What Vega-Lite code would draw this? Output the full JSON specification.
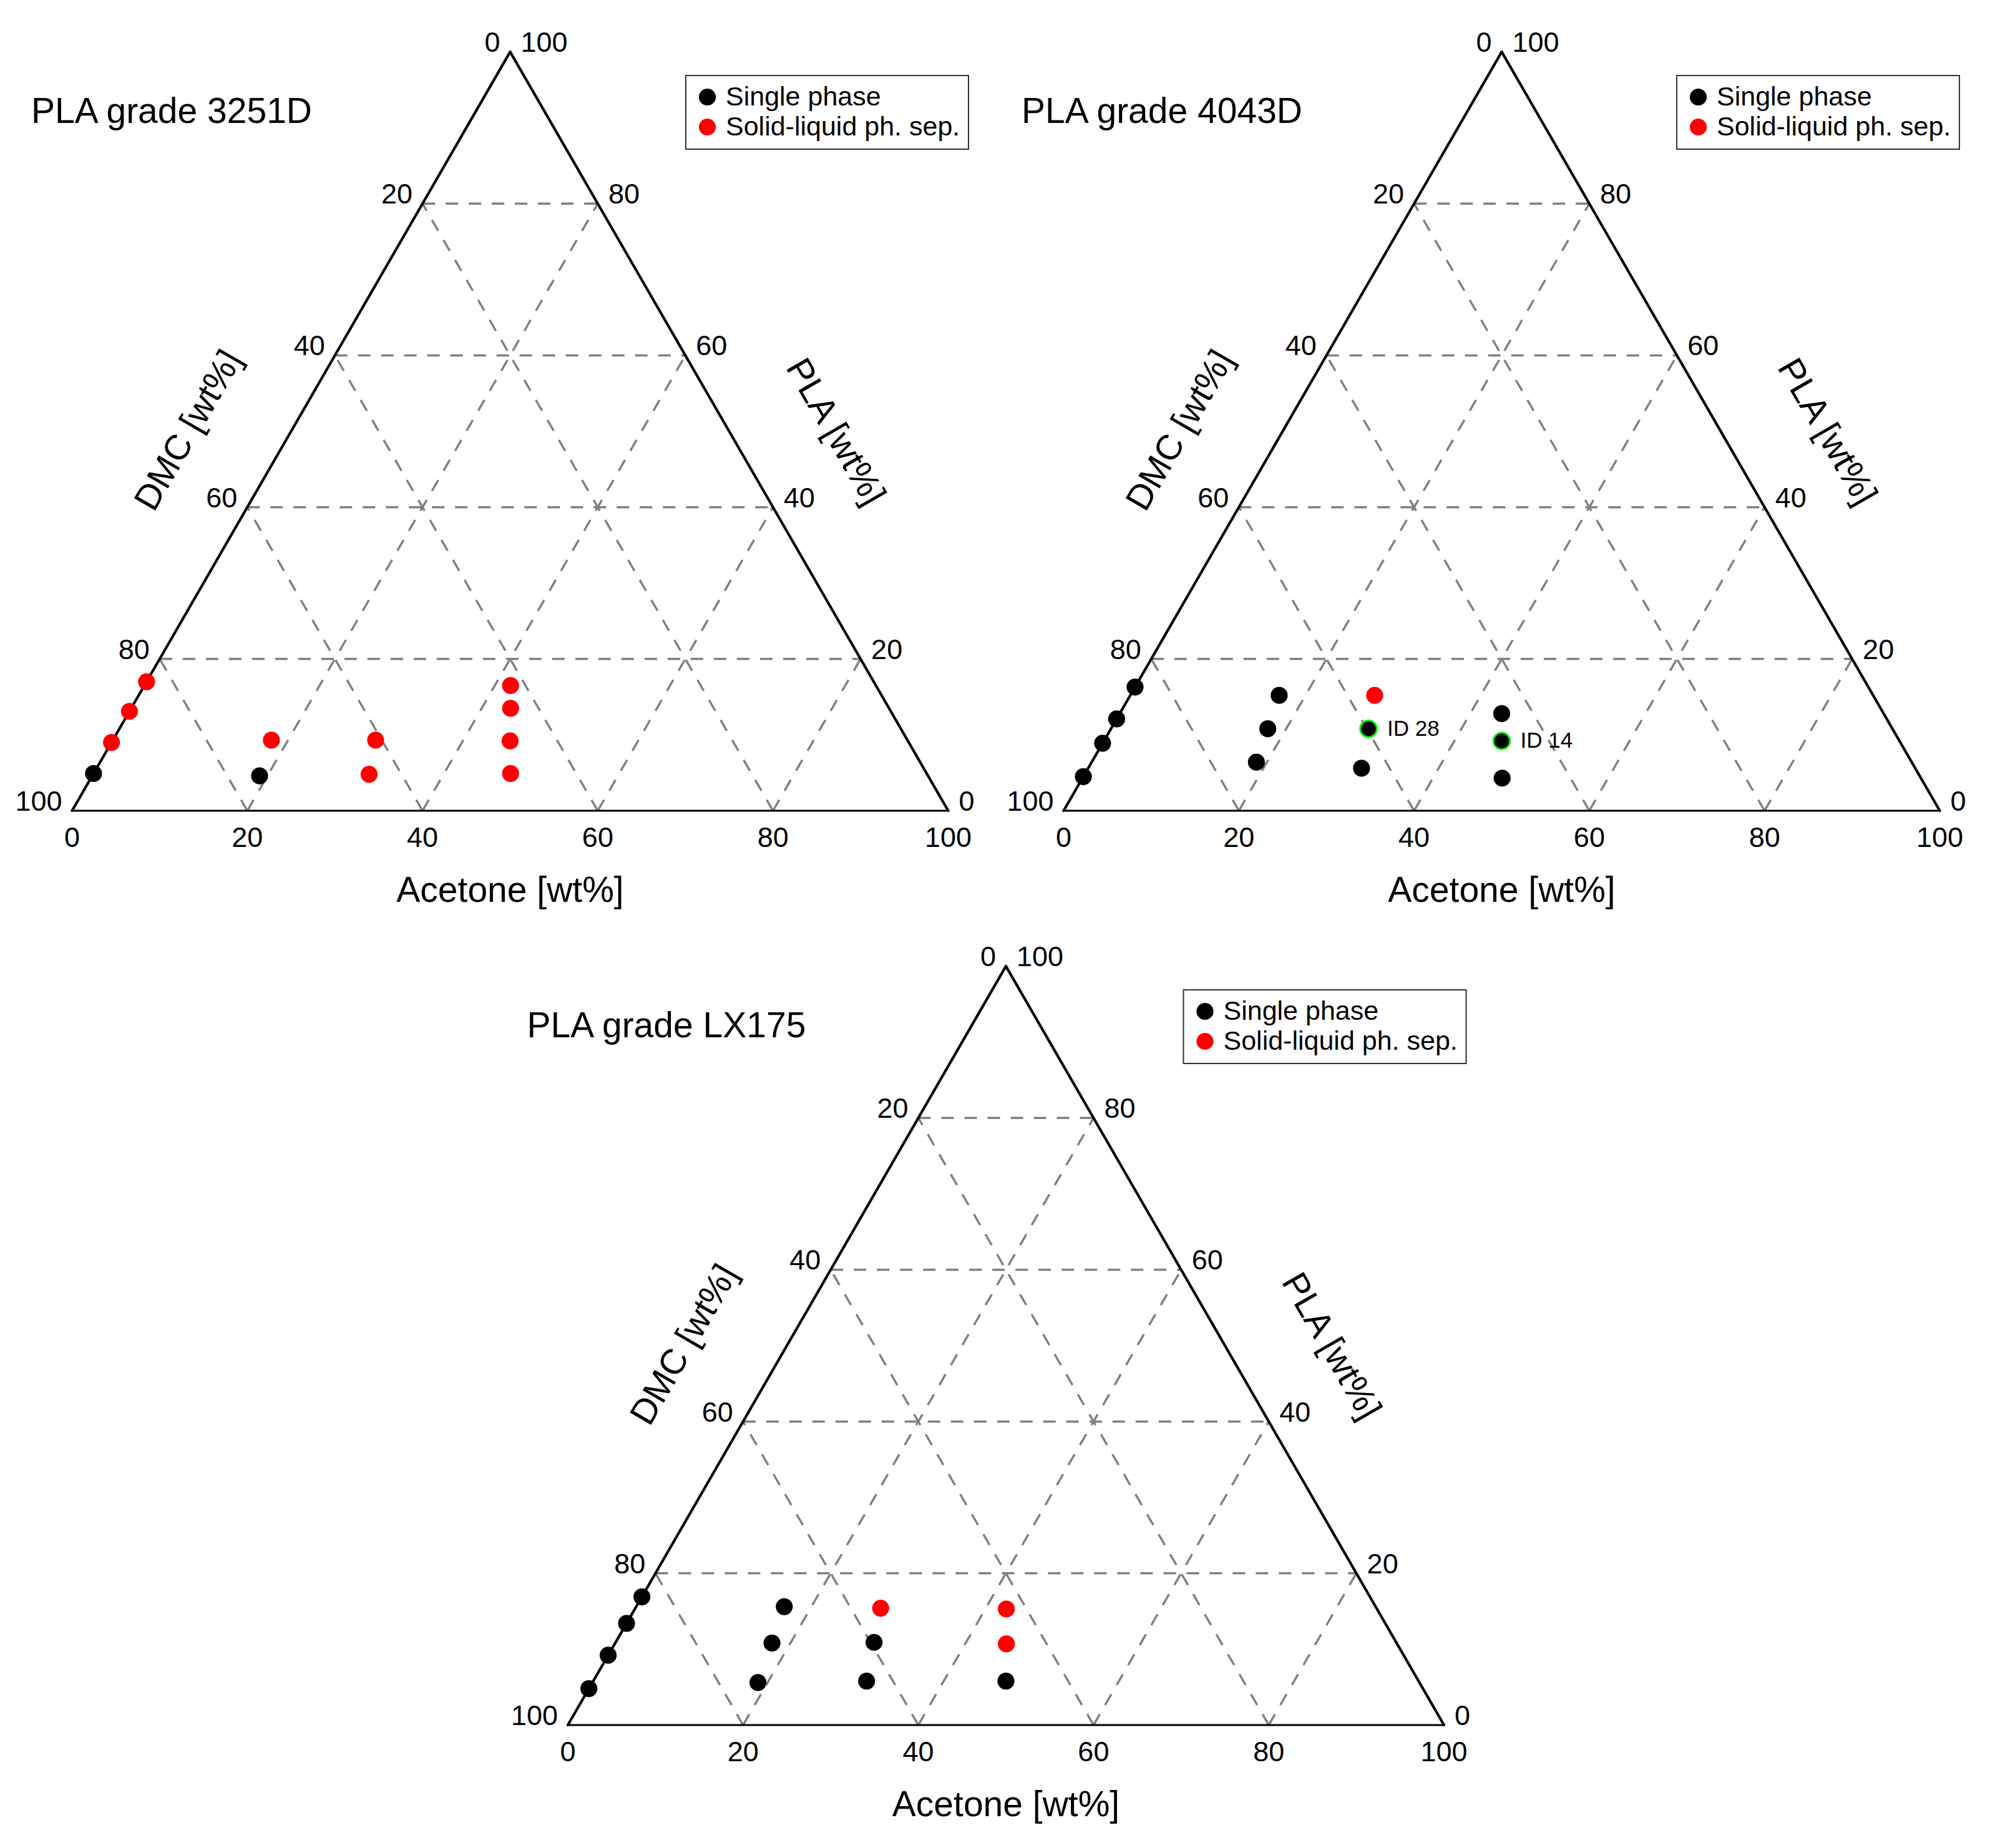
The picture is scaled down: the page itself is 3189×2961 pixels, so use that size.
{
  "$schema": "https://vega.github.io/schema/vega-lite/v6.json",
  "padding": 0,
  "spacing": 0,
  "center": true,
  "config": {
    "view": {"stroke": null},
    "font": "Liberation Sans",
    "concat": {"spacing": 0},
    "legend": {"strokeWidth": 2}
  },
  "datasets": {
    "frame": [
      {"edge": "bottom", "a1": 0, "p1": 0, "a2": 100, "p2": 0},
      {"edge": "right", "a1": 100, "p1": 0, "a2": 0, "p2": 100},
      {"edge": "left", "a1": 0, "p1": 100, "a2": 0, "p2": 0}
    ],
    "grid": [
      {"a1": 0, "p1": 20, "a2": 80, "p2": 20},
      {"a1": 0, "p1": 40, "a2": 60, "p2": 40},
      {"a1": 0, "p1": 60, "a2": 40, "p2": 60},
      {"a1": 0, "p1": 80, "a2": 20, "p2": 80},
      {"a1": 20, "p1": 0, "a2": 20, "p2": 80},
      {"a1": 40, "p1": 0, "a2": 40, "p2": 60},
      {"a1": 60, "p1": 0, "a2": 60, "p2": 40},
      {"a1": 80, "p1": 0, "a2": 80, "p2": 20},
      {"a1": 20, "p1": 0, "a2": 0, "p2": 20},
      {"a1": 40, "p1": 0, "a2": 0, "p2": 40},
      {"a1": 60, "p1": 0, "a2": 0, "p2": 60},
      {"a1": 80, "p1": 0, "a2": 0, "p2": 80}
    ],
    "ticks": [
      {"side": "b", "a": 0, "p": 0, "t": "0"},
      {"side": "b", "a": 20, "p": 0, "t": "20"},
      {"side": "b", "a": 40, "p": 0, "t": "40"},
      {"side": "b", "a": 60, "p": 0, "t": "60"},
      {"side": "b", "a": 80, "p": 0, "t": "80"},
      {"side": "b", "a": 100, "p": 0, "t": "100"},
      {"side": "r", "a": 100, "p": 0, "t": "0"},
      {"side": "r", "a": 80, "p": 20, "t": "20"},
      {"side": "r", "a": 60, "p": 40, "t": "40"},
      {"side": "r", "a": 40, "p": 60, "t": "60"},
      {"side": "r", "a": 20, "p": 80, "t": "80"},
      {"side": "r", "a": 0, "p": 100, "t": "100"},
      {"side": "l", "a": 0, "p": 0, "t": "100"},
      {"side": "l", "a": 0, "p": 20, "t": "80"},
      {"side": "l", "a": 0, "p": 40, "t": "60"},
      {"side": "l", "a": 0, "p": 60, "t": "40"},
      {"side": "l", "a": 0, "p": 80, "t": "20"},
      {"side": "l", "a": 0, "p": 100, "t": "0"}
    ],
    "axtitles": [
      {"side": "b", "a": 50, "p": 0, "t": "Acetone [wt%]"},
      {"side": "r", "a": 50, "p": 50, "t": "PLA [wt%]"},
      {"side": "l", "a": 0, "p": 50, "t": "DMC [wt%]"}
    ],
    "pts": [
      {"grade": "3251D", "phase": "Single phase", "a": 0, "p": 4.9, "dmc": 95.1},
      {"grade": "3251D", "phase": "Single phase", "a": 19.1, "p": 4.6, "dmc": 76.3},
      {"grade": "3251D", "phase": "Solid-liquid ph. sep.", "a": 0, "p": 9.0, "dmc": 91.0},
      {"grade": "3251D", "phase": "Solid-liquid ph. sep.", "a": 0, "p": 13.1, "dmc": 86.9},
      {"grade": "3251D", "phase": "Solid-liquid ph. sep.", "a": 0, "p": 17.0, "dmc": 83.0},
      {"grade": "3251D", "phase": "Solid-liquid ph. sep.", "a": 18.1, "p": 9.3, "dmc": 72.6},
      {"grade": "3251D", "phase": "Solid-liquid ph. sep.", "a": 30.0, "p": 9.3, "dmc": 60.7},
      {"grade": "3251D", "phase": "Solid-liquid ph. sep.", "a": 31.5, "p": 4.8, "dmc": 63.7},
      {"grade": "3251D", "phase": "Solid-liquid ph. sep.", "a": 41.8, "p": 16.5, "dmc": 41.7},
      {"grade": "3251D", "phase": "Solid-liquid ph. sep.", "a": 43.3, "p": 13.5, "dmc": 43.2},
      {"grade": "3251D", "phase": "Solid-liquid ph. sep.", "a": 45.4, "p": 9.2, "dmc": 45.4},
      {"grade": "3251D", "phase": "Solid-liquid ph. sep.", "a": 47.6, "p": 4.9, "dmc": 47.5},
      {"grade": "4043D", "phase": "Single phase", "a": 0, "p": 4.5, "dmc": 95.5},
      {"grade": "4043D", "phase": "Single phase", "a": 0, "p": 8.9, "dmc": 91.1},
      {"grade": "4043D", "phase": "Single phase", "a": 0, "p": 12.1, "dmc": 87.9},
      {"grade": "4043D", "phase": "Single phase", "a": 0, "p": 16.3, "dmc": 83.7},
      {"grade": "4043D", "phase": "Single phase", "a": 17.0, "p": 15.2, "dmc": 67.8},
      {"grade": "4043D", "phase": "Single phase", "a": 17.9, "p": 10.8, "dmc": 71.3},
      {"grade": "4043D", "phase": "Single phase", "a": 18.8, "p": 6.4, "dmc": 74.8},
      {"grade": "4043D", "phase": "Single phase", "a": 29.4, "p": 10.8, "dmc": 59.8, "label": "ID 28"},
      {"grade": "4043D", "phase": "Single phase", "a": 31.2, "p": 5.6, "dmc": 63.2},
      {"grade": "4043D", "phase": "Single phase", "a": 43.6, "p": 12.8, "dmc": 43.6},
      {"grade": "4043D", "phase": "Single phase", "a": 45.4, "p": 9.2, "dmc": 45.4, "label": "ID 14"},
      {"grade": "4043D", "phase": "Single phase", "a": 47.9, "p": 4.3, "dmc": 47.8},
      {"grade": "4043D", "phase": "Solid-liquid ph. sep.", "a": 27.9, "p": 15.2, "dmc": 56.9},
      {"grade": "LX175", "phase": "Single phase", "a": 0, "p": 4.8, "dmc": 95.2},
      {"grade": "LX175", "phase": "Single phase", "a": 0, "p": 9.2, "dmc": 90.8},
      {"grade": "LX175", "phase": "Single phase", "a": 0, "p": 13.4, "dmc": 86.6},
      {"grade": "LX175", "phase": "Single phase", "a": 0, "p": 16.9, "dmc": 83.1},
      {"grade": "LX175", "phase": "Single phase", "a": 16.9, "p": 15.6, "dmc": 67.5},
      {"grade": "LX175", "phase": "Single phase", "a": 17.9, "p": 10.8, "dmc": 71.3},
      {"grade": "LX175", "phase": "Single phase", "a": 18.9, "p": 5.6, "dmc": 75.5},
      {"grade": "LX175", "phase": "Single phase", "a": 29.5, "p": 10.9, "dmc": 59.6},
      {"grade": "LX175", "phase": "Single phase", "a": 31.2, "p": 5.8, "dmc": 63.0},
      {"grade": "LX175", "phase": "Single phase", "a": 47.1, "p": 5.8, "dmc": 47.1},
      {"grade": "LX175", "phase": "Solid-liquid ph. sep.", "a": 28.0, "p": 15.4, "dmc": 56.6},
      {"grade": "LX175", "phase": "Solid-liquid ph. sep.", "a": 42.4, "p": 15.3, "dmc": 42.3},
      {"grade": "LX175", "phase": "Solid-liquid ph. sep.", "a": 44.7, "p": 10.7, "dmc": 44.6}
    ]
  },
  "resolve": {"scale": {"color": "independent", "x": "independent", "y": "independent"}, "legend": {"color": "independent"}},
  "vconcat": [
    {
      "spacing": 0,
      "resolve": {"scale": {"color": "independent", "x": "independent", "y": "independent"}, "legend": {"color": "independent"}},
      "hconcat": [
        {
          "width": 1589, "height": 1465,
          "title": {"text": "PLA grade 3251D", "anchor": "start", "frame": "group", "offset": -254, "dx": 50, "fontSize": 57, "fontWeight": "normal", "font": "Liberation Sans", "color": "#000000", "baseline": "alphabetic"},
          "encoding": {
            "x": {"field": "x", "type": "quantitative", "scale": {"domain": [-8.226, 104.95], "nice": false, "zero": false}, "axis": null},
            "y": {"field": "y", "type": "quantitative", "scale": {"domain": [-11.82, 92.52], "nice": false, "zero": false}, "axis": null}
          },
          "layer": [
            {"data": {"name": "grid"}, "transform": [{"calculate": "datum.a1 + datum.p1/2", "as": "x"}, {"calculate": "datum.p1*0.8660254", "as": "y"}, {"calculate": "datum.a2 + datum.p2/2", "as": "x2"}, {"calculate": "datum.p2*0.8660254", "as": "y2"}],
             "mark": {"type": "rule", "color": "#808080", "strokeWidth": 3.5, "strokeDash": [20, 17]}, "encoding": {"x2": {"field": "x2"}, "y2": {"field": "y2"}}},
            {"data": {"name": "frame"}, "transform": [{"filter": "datum.edge != 'bottom'"}, {"calculate": "datum.a1 + datum.p1/2", "as": "x"}, {"calculate": "datum.p1*0.8660254", "as": "y"}, {"calculate": "datum.a2 + datum.p2/2", "as": "x2"}, {"calculate": "datum.p2*0.8660254", "as": "y2"}],
             "mark": {"type": "rule", "color": "#000000", "strokeWidth": 4.2, "strokeCap": "round"}, "encoding": {"x2": {"field": "x2"}, "y2": {"field": "y2"}}},
            {"data": {"name": "frame"}, "transform": [{"filter": "datum.edge == 'bottom'"}, {"calculate": "datum.a1 + datum.p1/2", "as": "x"}, {"calculate": "datum.p1*0.8660254", "as": "y"}, {"calculate": "datum.a2 + datum.p2/2", "as": "x2"}, {"calculate": "datum.p2*0.8660254", "as": "y2"}],
             "mark": {"type": "rule", "color": "#000000", "strokeWidth": 3, "strokeCap": "round"}, "encoding": {"x2": {"field": "x2"}, "y2": {"field": "y2"}}},
            {"data": {"name": "ticks"}, "transform": [{"filter": "datum.side == 'b'"}, {"calculate": "datum.a + datum.p/2", "as": "x"}, {"calculate": "datum.p*0.8660254", "as": "y"}],
             "mark": {"type": "text", "fontSize": 45, "color": "#000000", "align": "center", "baseline": "alphabetic", "dy": 58}, "encoding": {"text": {"field": "t"}}},
            {"data": {"name": "ticks"}, "transform": [{"filter": "datum.side == 'r'"}, {"calculate": "datum.a + datum.p/2", "as": "x"}, {"calculate": "datum.p*0.8660254", "as": "y"}],
             "mark": {"type": "text", "fontSize": 45, "color": "#000000", "align": "left", "baseline": "alphabetic", "dx": 17}, "encoding": {"text": {"field": "t"}}},
            {"data": {"name": "ticks"}, "transform": [{"filter": "datum.side == 'l'"}, {"calculate": "datum.a + datum.p/2", "as": "x"}, {"calculate": "datum.p*0.8660254", "as": "y"}],
             "mark": {"type": "text", "fontSize": 45, "color": "#000000", "align": "right", "baseline": "alphabetic", "dx": -16}, "encoding": {"text": {"field": "t"}}},
            {"data": {"name": "axtitles"}, "transform": [{"filter": "datum.side == 'b'"}, {"calculate": "datum.a + datum.p/2", "as": "x"}, {"calculate": "datum.p*0.8660254", "as": "y"}],
             "mark": {"type": "text", "fontSize": 57, "color": "#000000", "align": "center", "baseline": "alphabetic", "dy": 146}, "encoding": {"text": {"field": "t"}}},
            {"data": {"name": "axtitles"}, "transform": [{"filter": "datum.side == 'r'"}, {"calculate": "datum.a + datum.p/2", "as": "x"}, {"calculate": "datum.p*0.8660254", "as": "y"}],
             "mark": {"type": "text", "fontSize": 57, "color": "#000000", "align": "center", "baseline": "middle", "angle": 60, "dx": 86, "dy": -146}, "encoding": {"text": {"field": "t"}}},
            {"data": {"name": "axtitles"}, "transform": [{"filter": "datum.side == 'l'"}, {"calculate": "datum.a + datum.p/2", "as": "x"}, {"calculate": "datum.p*0.8660254", "as": "y"}],
             "mark": {"type": "text", "fontSize": 57, "color": "#000000", "align": "center", "baseline": "middle", "angle": 300, "dx": -81, "dy": -142}, "encoding": {"text": {"field": "t"}}},
            {"data": {"name": "pts"}, "transform": [{"filter": "datum.grade == '3251D'"}, {"calculate": "datum.a + datum.p/2", "as": "x"}, {"calculate": "datum.p*0.8660254", "as": "y"}],
             "mark": {"type": "circle", "size": 740, "opacity": 1},
             "encoding": {"color": {"field": "phase", "type": "nominal", "scale": {"domain": ["Single phase", "Solid-liquid ph. sep."], "range": ["#000000", "#ff0000"]},
               "legend": {"orient": "none", "legendX": 1099, "legendY": 121, "title": null, "strokeColor": "#333333", "fillColor": "#ffffff", "padding": 13, "rowPadding": 4, "symbolType": "circle", "symbolSize": 740, "symbolStrokeWidth": 0, "symbolOpacity": 1, "labelFontSize": 43, "labelFont": "Liberation Sans", "labelColor": "#000000", "labelOffset": 8, "labelLimit": 0}}}}
          ]
        },
        {
          "width": 1589, "height": 1465,
          "title": {"text": "PLA grade 4043D", "anchor": "start", "frame": "group", "offset": -254, "dx": 48, "fontSize": 57, "fontWeight": "normal", "font": "Liberation Sans", "color": "#000000", "baseline": "alphabetic"},
          "encoding": {
            "x": {"field": "x", "type": "quantitative", "scale": {"domain": [-8.226, 104.95], "nice": false, "zero": false}, "axis": null},
            "y": {"field": "y", "type": "quantitative", "scale": {"domain": [-11.82, 92.52], "nice": false, "zero": false}, "axis": null}
          },
          "layer": [
            {"data": {"name": "grid"}, "transform": [{"calculate": "datum.a1 + datum.p1/2", "as": "x"}, {"calculate": "datum.p1*0.8660254", "as": "y"}, {"calculate": "datum.a2 + datum.p2/2", "as": "x2"}, {"calculate": "datum.p2*0.8660254", "as": "y2"}],
             "mark": {"type": "rule", "color": "#808080", "strokeWidth": 3.5, "strokeDash": [20, 17]}, "encoding": {"x2": {"field": "x2"}, "y2": {"field": "y2"}}},
            {"data": {"name": "frame"}, "transform": [{"filter": "datum.edge != 'bottom'"}, {"calculate": "datum.a1 + datum.p1/2", "as": "x"}, {"calculate": "datum.p1*0.8660254", "as": "y"}, {"calculate": "datum.a2 + datum.p2/2", "as": "x2"}, {"calculate": "datum.p2*0.8660254", "as": "y2"}],
             "mark": {"type": "rule", "color": "#000000", "strokeWidth": 4.2, "strokeCap": "round"}, "encoding": {"x2": {"field": "x2"}, "y2": {"field": "y2"}}},
            {"data": {"name": "frame"}, "transform": [{"filter": "datum.edge == 'bottom'"}, {"calculate": "datum.a1 + datum.p1/2", "as": "x"}, {"calculate": "datum.p1*0.8660254", "as": "y"}, {"calculate": "datum.a2 + datum.p2/2", "as": "x2"}, {"calculate": "datum.p2*0.8660254", "as": "y2"}],
             "mark": {"type": "rule", "color": "#000000", "strokeWidth": 3, "strokeCap": "round"}, "encoding": {"x2": {"field": "x2"}, "y2": {"field": "y2"}}},
            {"data": {"name": "ticks"}, "transform": [{"filter": "datum.side == 'b'"}, {"calculate": "datum.a + datum.p/2", "as": "x"}, {"calculate": "datum.p*0.8660254", "as": "y"}],
             "mark": {"type": "text", "fontSize": 45, "color": "#000000", "align": "center", "baseline": "alphabetic", "dy": 58}, "encoding": {"text": {"field": "t"}}},
            {"data": {"name": "ticks"}, "transform": [{"filter": "datum.side == 'r'"}, {"calculate": "datum.a + datum.p/2", "as": "x"}, {"calculate": "datum.p*0.8660254", "as": "y"}],
             "mark": {"type": "text", "fontSize": 45, "color": "#000000", "align": "left", "baseline": "alphabetic", "dx": 17}, "encoding": {"text": {"field": "t"}}},
            {"data": {"name": "ticks"}, "transform": [{"filter": "datum.side == 'l'"}, {"calculate": "datum.a + datum.p/2", "as": "x"}, {"calculate": "datum.p*0.8660254", "as": "y"}],
             "mark": {"type": "text", "fontSize": 45, "color": "#000000", "align": "right", "baseline": "alphabetic", "dx": -16}, "encoding": {"text": {"field": "t"}}},
            {"data": {"name": "axtitles"}, "transform": [{"filter": "datum.side == 'b'"}, {"calculate": "datum.a + datum.p/2", "as": "x"}, {"calculate": "datum.p*0.8660254", "as": "y"}],
             "mark": {"type": "text", "fontSize": 57, "color": "#000000", "align": "center", "baseline": "alphabetic", "dy": 146}, "encoding": {"text": {"field": "t"}}},
            {"data": {"name": "axtitles"}, "transform": [{"filter": "datum.side == 'r'"}, {"calculate": "datum.a + datum.p/2", "as": "x"}, {"calculate": "datum.p*0.8660254", "as": "y"}],
             "mark": {"type": "text", "fontSize": 57, "color": "#000000", "align": "center", "baseline": "middle", "angle": 60, "dx": 86, "dy": -146}, "encoding": {"text": {"field": "t"}}},
            {"data": {"name": "axtitles"}, "transform": [{"filter": "datum.side == 'l'"}, {"calculate": "datum.a + datum.p/2", "as": "x"}, {"calculate": "datum.p*0.8660254", "as": "y"}],
             "mark": {"type": "text", "fontSize": 57, "color": "#000000", "align": "center", "baseline": "middle", "angle": 300, "dx": -81, "dy": -142}, "encoding": {"text": {"field": "t"}}},
            {"data": {"name": "pts"}, "transform": [{"filter": "datum.grade == '4043D'"}, {"calculate": "datum.a + datum.p/2", "as": "x"}, {"calculate": "datum.p*0.8660254", "as": "y"}],
             "mark": {"type": "circle", "size": 740, "opacity": 1},
             "encoding": {"color": {"field": "phase", "type": "nominal", "scale": {"domain": ["Single phase", "Solid-liquid ph. sep."], "range": ["#000000", "#ff0000"]},
               "legend": {"orient": "none", "legendX": 1098, "legendY": 121, "title": null, "strokeColor": "#333333", "fillColor": "#ffffff", "padding": 13, "rowPadding": 4, "symbolType": "circle", "symbolSize": 740, "symbolStrokeWidth": 0, "symbolOpacity": 1, "labelFontSize": 43, "labelFont": "Liberation Sans", "labelColor": "#000000", "labelOffset": 8, "labelLimit": 0}}}},
            {"data": {"name": "pts"}, "transform": [{"filter": "datum.grade == '4043D' && datum.label != null"}, {"calculate": "datum.a + datum.p/2", "as": "x"}, {"calculate": "datum.p*0.8660254", "as": "y"}],
             "mark": {"type": "circle", "size": 700, "opacity": 1, "fill": "#000000", "stroke": "#00ee00", "strokeWidth": 3}},
            {"data": {"name": "pts"}, "transform": [{"filter": "datum.grade == '4043D' && datum.label != null"}, {"calculate": "datum.a + datum.p/2", "as": "x"}, {"calculate": "datum.p*0.8660254", "as": "y"}],
             "mark": {"type": "text", "fontSize": 35, "color": "#000000", "align": "left", "baseline": "middle", "dx": 30}, "encoding": {"text": {"field": "label"}}}
          ]
        }
      ]
    },
    {
      "width": 1589, "height": 1465,
      "title": {"text": "PLA grade LX175", "anchor": "start", "frame": "group", "offset": -254, "dx": 50, "fontSize": 57, "fontWeight": "normal", "font": "Liberation Sans", "color": "#000000", "baseline": "alphabetic"},
      "encoding": {
        "x": {"field": "x", "type": "quantitative", "scale": {"domain": [-8.226, 104.95], "nice": false, "zero": false}, "axis": null},
        "y": {"field": "y", "type": "quantitative", "scale": {"domain": [-11.82, 92.52], "nice": false, "zero": false}, "axis": null}
      },
      "layer": [
        {"data": {"name": "grid"}, "transform": [{"calculate": "datum.a1 + datum.p1/2", "as": "x"}, {"calculate": "datum.p1*0.8660254", "as": "y"}, {"calculate": "datum.a2 + datum.p2/2", "as": "x2"}, {"calculate": "datum.p2*0.8660254", "as": "y2"}],
         "mark": {"type": "rule", "color": "#808080", "strokeWidth": 3.5, "strokeDash": [20, 17]}, "encoding": {"x2": {"field": "x2"}, "y2": {"field": "y2"}}},
        {"data": {"name": "frame"}, "transform": [{"filter": "datum.edge != 'bottom'"}, {"calculate": "datum.a1 + datum.p1/2", "as": "x"}, {"calculate": "datum.p1*0.8660254", "as": "y"}, {"calculate": "datum.a2 + datum.p2/2", "as": "x2"}, {"calculate": "datum.p2*0.8660254", "as": "y2"}],
         "mark": {"type": "rule", "color": "#000000", "strokeWidth": 4.2, "strokeCap": "round"}, "encoding": {"x2": {"field": "x2"}, "y2": {"field": "y2"}}},
        {"data": {"name": "frame"}, "transform": [{"filter": "datum.edge == 'bottom'"}, {"calculate": "datum.a1 + datum.p1/2", "as": "x"}, {"calculate": "datum.p1*0.8660254", "as": "y"}, {"calculate": "datum.a2 + datum.p2/2", "as": "x2"}, {"calculate": "datum.p2*0.8660254", "as": "y2"}],
         "mark": {"type": "rule", "color": "#000000", "strokeWidth": 3, "strokeCap": "round"}, "encoding": {"x2": {"field": "x2"}, "y2": {"field": "y2"}}},
        {"data": {"name": "ticks"}, "transform": [{"filter": "datum.side == 'b'"}, {"calculate": "datum.a + datum.p/2", "as": "x"}, {"calculate": "datum.p*0.8660254", "as": "y"}],
         "mark": {"type": "text", "fontSize": 45, "color": "#000000", "align": "center", "baseline": "alphabetic", "dy": 58}, "encoding": {"text": {"field": "t"}}},
        {"data": {"name": "ticks"}, "transform": [{"filter": "datum.side == 'r'"}, {"calculate": "datum.a + datum.p/2", "as": "x"}, {"calculate": "datum.p*0.8660254", "as": "y"}],
         "mark": {"type": "text", "fontSize": 45, "color": "#000000", "align": "left", "baseline": "alphabetic", "dx": 17}, "encoding": {"text": {"field": "t"}}},
        {"data": {"name": "ticks"}, "transform": [{"filter": "datum.side == 'l'"}, {"calculate": "datum.a + datum.p/2", "as": "x"}, {"calculate": "datum.p*0.8660254", "as": "y"}],
         "mark": {"type": "text", "fontSize": 45, "color": "#000000", "align": "right", "baseline": "alphabetic", "dx": -16}, "encoding": {"text": {"field": "t"}}},
        {"data": {"name": "axtitles"}, "transform": [{"filter": "datum.side == 'b'"}, {"calculate": "datum.a + datum.p/2", "as": "x"}, {"calculate": "datum.p*0.8660254", "as": "y"}],
         "mark": {"type": "text", "fontSize": 57, "color": "#000000", "align": "center", "baseline": "alphabetic", "dy": 146}, "encoding": {"text": {"field": "t"}}},
        {"data": {"name": "axtitles"}, "transform": [{"filter": "datum.side == 'r'"}, {"calculate": "datum.a + datum.p/2", "as": "x"}, {"calculate": "datum.p*0.8660254", "as": "y"}],
         "mark": {"type": "text", "fontSize": 57, "color": "#000000", "align": "center", "baseline": "middle", "angle": 60, "dx": 86, "dy": -146}, "encoding": {"text": {"field": "t"}}},
        {"data": {"name": "axtitles"}, "transform": [{"filter": "datum.side == 'l'"}, {"calculate": "datum.a + datum.p/2", "as": "x"}, {"calculate": "datum.p*0.8660254", "as": "y"}],
         "mark": {"type": "text", "fontSize": 57, "color": "#000000", "align": "center", "baseline": "middle", "angle": 300, "dx": -81, "dy": -142}, "encoding": {"text": {"field": "t"}}},
        {"data": {"name": "pts"}, "transform": [{"filter": "datum.grade == 'LX175'"}, {"calculate": "datum.a + datum.p/2", "as": "x"}, {"calculate": "datum.p*0.8660254", "as": "y"}],
         "mark": {"type": "circle", "size": 740, "opacity": 1},
         "encoding": {"color": {"field": "phase", "type": "nominal", "scale": {"domain": ["Single phase", "Solid-liquid ph. sep."], "range": ["#000000", "#ff0000"]},
           "legend": {"orient": "none", "legendX": 1102, "legendY": 121, "title": null, "strokeColor": "#333333", "fillColor": "#ffffff", "padding": 13, "rowPadding": 4, "symbolType": "circle", "symbolSize": 740, "symbolStrokeWidth": 0, "symbolOpacity": 1, "labelFontSize": 43, "labelFont": "Liberation Sans", "labelColor": "#000000", "labelOffset": 8, "labelLimit": 0}}}}
      ]
    }
  ]
}
